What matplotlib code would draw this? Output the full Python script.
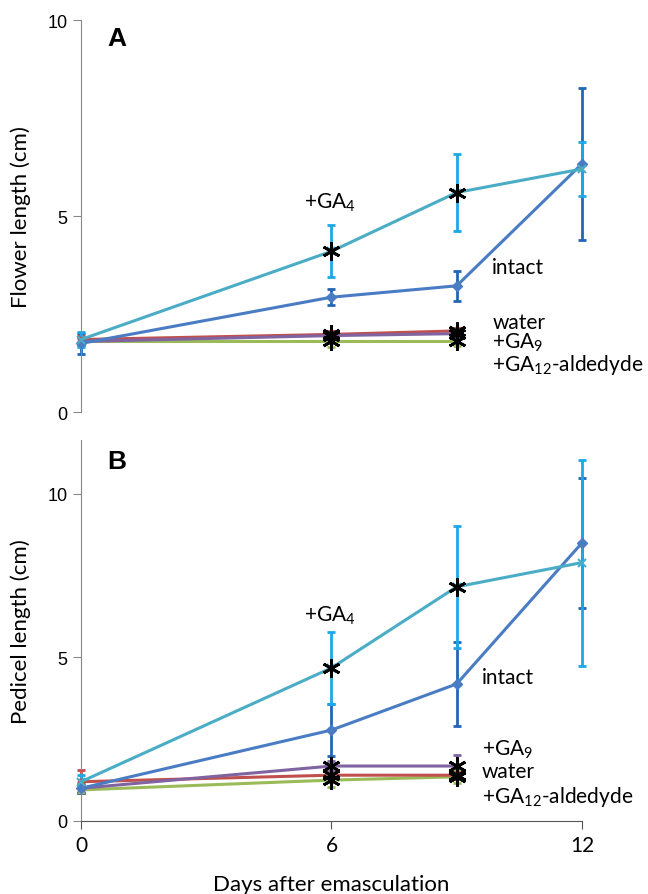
import numpy as np
import matplotlib.pyplot as plt

plt.rcParams['font.family'] = ['Lato', 'DejaVu Sans']
plt.rcParams['mathtext.fontset'] = 'custom'
plt.rcParams['mathtext.rm'] = 'Lato'
plt.rcParams['mathtext.it'] = 'Lato'
plt.rcParams['mathtext.default'] = 'regular'

days = [0, 6, 9, 12]
days_short = [0, 6, 9]

# panel A: flower length
a_intact = [1.75, 2.93, 3.22, 6.33]
a_intact_err = [0.27, 0.2, 0.38, 1.93]
a_ga4 = [1.85, 4.1, 5.6, 6.2]
a_ga4_err = [0.2, 0.66, 0.97, 0.68]
a_water = [1.85, 1.98, 2.07]
a_water_err = [0.12, 0.08, 0.08]
a_ga9 = [1.8, 1.95, 2.0]
a_ga9_err = [0.1, 0.08, 0.08]
a_ga12 = [1.8, 1.8, 1.8]
a_ga12_err = [0.12, 0.15, 0.12]

# panel B: pedicel length
b_intact = [1.0, 2.78, 4.19, 8.5]
b_intact_err = [0.15, 0.8, 1.28, 2.0]
b_ga4 = [1.2, 4.68, 7.16, 7.9]
b_ga4_err = [0.2, 1.1, 1.86, 3.15]
b_ga9 = [1.0, 1.68, 1.68]
b_ga9_err = [0.1, 0.15, 0.35]
b_water = [1.2, 1.4, 1.4]
b_water_err = [0.35, 0.1, 0.1]
b_ga12 = [0.95, 1.25, 1.35]
b_ga12_err = [0.1, 0.2, 0.2]

c_ga4 = '#4BACC6'
c_ga4_err = '#1EA7E6'
c_intact = '#4A7CC4'
c_intact_err = '#2266B8'
c_water = '#C0504D'
c_ga9 = '#8064A2'
c_ga12 = '#9BBB59'

star = (6, 2, 0)


def draw(ax, intact, intact_err, ga4, ga4_err, water, water_err, ga9, ga9_err, ga12, ga12_err):
    for x, y, e, c in [(days_short, ga12, ga12_err, c_ga12),
                       (days_short, water, water_err, c_water),
                       (days_short, ga9, ga9_err, c_ga9),
                       (days, intact, intact_err, c_intact_err),
                       (days, ga4, ga4_err, c_ga4_err)]:
        ax.errorbar(x, y, yerr=e, fmt='none', ecolor=c, elinewidth=2,
                    capsize=3, capthick=2, clip_on=False, zorder=2)
    ax.plot(days_short, ga12, color=c_ga12, lw=2.2, marker='^', ms=5, zorder=3, clip_on=False)
    ax.plot(days_short, water, color=c_water, lw=2.2, marker='s', ms=5, zorder=3, clip_on=False)
    ax.plot(days_short, ga9, color=c_ga9, lw=2.2, marker='x', ms=5, zorder=3, clip_on=False)
    ax.plot(days, intact, color=c_intact, lw=2.2, marker='D', ms=5, zorder=4, clip_on=False)
    ax.plot(days, ga4, color=c_ga4, lw=2.2, marker='x', ms=6, mew=1.5, zorder=4, clip_on=False)
    # significance asterisks
    for y in [ga4, water, ga9, ga12]:
        ax.plot(days[1:3], y[1:3], ls='none', marker=star, ms=13, mew=2,
                color='black', zorder=5, clip_on=False)
    ax.set_xlim(0, 12)
    ax.spines['top'].set_visible(False)
    ax.spines['right'].set_visible(False)
    ax.spines['left'].set_color('#888888')
    ax.spines['bottom'].set_color('#555555')
    ax.tick_params(axis='y', colors='#888888', labelcolor='black', labelsize=13, length=6)


fig = plt.figure(figsize=(6.48, 8.95), dpi=100)
ax1 = fig.add_axes([0.125, 0.5385, 0.773, 0.438])
ax2 = fig.add_axes([0.125, 0.0816, 0.773, 0.4257])

draw(ax1, a_intact, a_intact_err, a_ga4, a_ga4_err, a_water, a_water_err,
     a_ga9, a_ga9_err, a_ga12, a_ga12_err)
draw(ax2, b_intact, b_intact_err, b_ga4, b_ga4_err, b_water, b_water_err,
     b_ga9, b_ga9_err, b_ga12, b_ga12_err)

lab = 16
ax1.set_ylim(0, 10)
ax1.set_yticks([0, 5, 10])
ax1.spines['bottom'].set_visible(False)
ax1.set_xticks([])
ax1.set_ylabel('Flower length (cm)', fontsize=lab, labelpad=12)

ax2.set_ylim(0, 11.65)
ax2.set_yticks([0, 5, 10])
ax2.set_xticks([0, 6, 12])
ax2.tick_params(axis='x', labelsize=15, length=6, colors='#555555', labelcolor='black', pad=4)
ax2.set_ylabel('Pedicel length (cm)', fontsize=lab, labelpad=12)
ax2.set_xlabel('Days after emasculation', fontsize=lab, labelpad=14)
for t in ax1.get_yticklabels() + ax2.get_yticklabels():
    t.set_family('Liberation Sans')

fs = 15
ax1.text(0.052, 0.985, 'A', transform=ax1.transAxes, fontsize=19, fontweight='bold',
         family='Liberation Sans', va='top')
ax1.text(5.35, 5.35, '+GA$_4$', fontsize=fs, va='center')
ax1.text(9.85, 3.7, 'intact', fontsize=fs, va='center')
ax1.text(9.85, 2.3, 'water', fontsize=fs, va='center')
ax1.text(9.85, 1.78, '+GA$_9$', fontsize=fs, va='center')
ax1.text(9.85, 1.22, '+GA$_{12}$-aldedyde', fontsize=fs, va='center')

ax2.text(0.052, 0.975, 'B', transform=ax2.transAxes, fontsize=19, fontweight='bold',
         family='Liberation Sans', va='top')
ax2.text(5.35, 6.3, '+GA$_4$', fontsize=fs, va='center')
ax2.text(9.6, 4.4, 'intact', fontsize=fs, va='center')
ax2.text(9.6, 2.2, '+GA$_9$', fontsize=fs, va='center')
ax2.text(9.6, 1.52, 'water', fontsize=fs, va='center')
ax2.text(9.6, 0.76, '+GA$_{12}$-aldedyde', fontsize=fs, va='center')

fig.savefig('out.png', dpi=100)
